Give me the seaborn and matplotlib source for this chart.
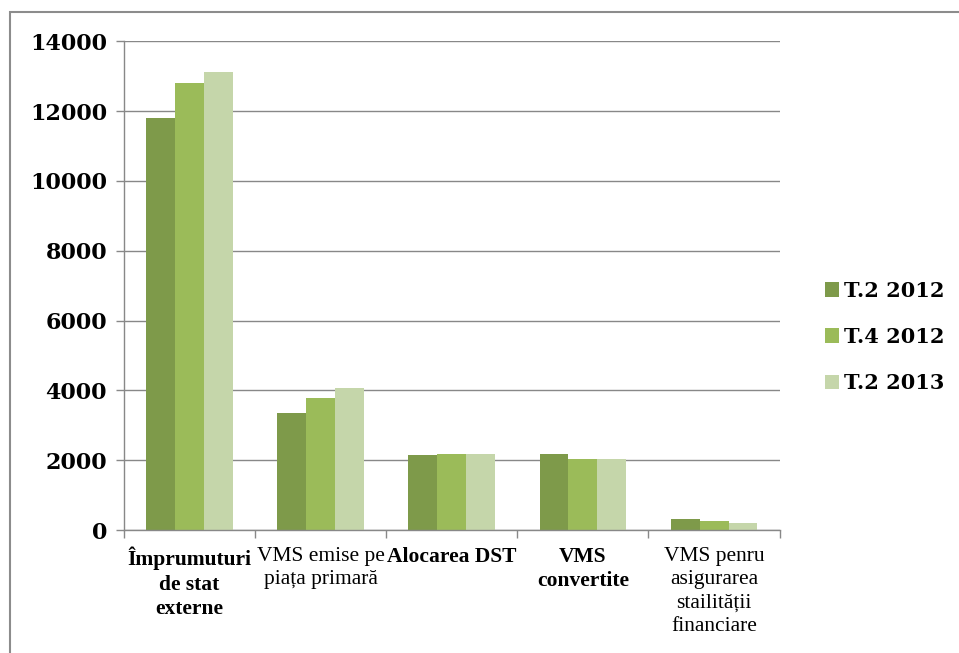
import pandas as pd
import numpy as np
import matplotlib
import matplotlib.pyplot as plt
import seaborn as sns
from matplotlib.font_manager import FontProperties

sns.set_theme(style="white")
plt.rcParams["text.color"] = "black"
plt.rcParams["xtick.color"] = "black"
plt.rcParams["ytick.color"] = "black"

# data
categories = [
    "Împrumuturi\nde stat\nexterne",
    "VMS emise pe\npiața primară",
    "Alocarea DST",
    "VMS\nconvertite",
    "VMS penru\nasigurarea\nstailității\nfinanciare",
]
bold_labels = [True, False, True, True, False]
periods = ["T.2 2012", "T.4 2012", "T.2 2013"]
t2_2012 = [11800, 3360, 2140, 2180, 310]
t4_2012 = [12810, 3790, 2180, 2040, 275]
t2_2013 = [13110, 4080, 2180, 2040, 210]
colors = ["#7E9A4A", "#9BBB59", "#C5D6AA"]
yticks = [0, 2000, 4000, 6000, 8000, 10000, 12000, 14000]

df = pd.DataFrame({
    "category": categories * 3,
    "period": np.repeat(periods, len(categories)),
    "value": t2_2012 + t4_2012 + t2_2013,
})

grid_col = "#888888"
tick_font = FontProperties(family="DejaVu Serif", weight="bold", size=16)

fig = plt.figure(figsize=(9.59, 6.53), dpi=100)
ax = fig.add_axes([0.129, 0.188, 0.684, 0.749])

sns.barplot(data=df, x="category", y="value", hue="period", palette=colors,
            width=0.66, saturation=1, ax=ax, linewidth=0)

ax.set_ylim(0, 14000)
ax.set_xlim(-0.5, len(categories) - 0.5)
ax.set_yticks(yticks)
ax.set_yticklabels([str(v) for v in yticks], fontproperties=tick_font)
ax.set_xlabel("")
ax.set_ylabel("")

ax.yaxis.grid(True, color=grid_col, linewidth=1)
ax.set_axisbelow(True)
for side in ["top", "right"]:
    ax.spines[side].set_visible(False)
for side in ["left", "bottom"]:
    ax.spines[side].set_color(grid_col)
    ax.spines[side].set_linewidth(1)

ax.tick_params(axis="y", which="major", direction="out", length=6,
               color=grid_col, width=1, pad=6, left=True)
ax.tick_params(axis="x", which="major", length=0, pad=12)
ax.set_xticks(np.arange(-0.5, len(categories)), minor=True)
ax.tick_params(axis="x", which="minor", direction="out", length=6,
               color=grid_col, width=1, bottom=True)

for lbl, bold in zip(ax.get_xticklabels(), bold_labels):
    lbl.set_fontfamily("Liberation Serif")
    lbl.set_fontsize(15.5)
    lbl.set_fontweight("bold" if bold else "normal")
    lbl.set_linespacing(1.3)
    lbl.set_va("top")

ax.legend(loc="center left", bbox_to_anchor=(1.04, 0.395), frameon=False,
          prop=FontProperties(family="DejaVu Serif", weight="bold", size=15),
          handlelength=0.7, handleheight=0.7, handletextpad=0.25,
          labelspacing=1.25)

# outer chart frame
fig.patches.append(plt.Rectangle((0.0104, -0.05), 1.5, 1.0316,
                                 transform=fig.transFigure, fill=False,
                                 edgecolor="#8C8C8C", linewidth=1.5))

fig.savefig("out.png", dpi=100)
